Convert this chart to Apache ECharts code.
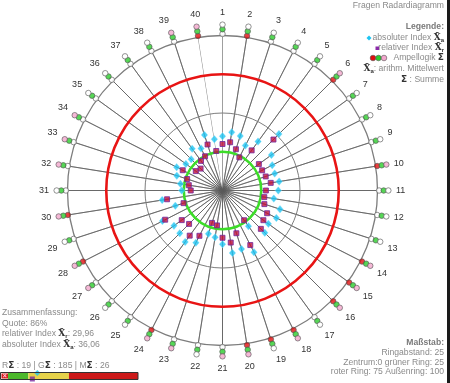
<!DOCTYPE html>
<html><head><meta charset="utf-8">
<script src="https://cdn.jsdelivr.net/npm/echarts@6/dist/echarts.min.js"></script>
<style>html,body{margin:0;padding:0;background:#fff}#c{width:450px;height:383px}</style>
</head><body><div id="c"></div>
<script>
// ---- data ----
const axisLabels = ['1','2','3','4','5','6','7','8','9','10','11','12','13','14','15','16','17','18','19','20',
  '21','22','23','24','25','26','27','28','29','30','31','32','33','34','35','36','37','38','39','40'];
const absIndex = [35,38,37,32.5,39,51.5,39,36,35.4,37, 36,33.5,39,39,36.6,38.6,28.5,44.7,39.7,40.8,
  34.7,30.6,29.4,37.8,41,39,38.7,43.5,32,39.4, 26.3,27.5,31,33.2,29.2,28.6,33.3,30.5,37.7,33.5];
const relIndex = [30,31.5,28,24,32,46.5,29,28.7,29.3,31.5, 28,27.3,28.4,32.3,32.6,35,23.7,39.5,29,34,
  30.5,22.8,22,32.8,36,30.5,32.5,41.5,26.4,36.2, 20.5,22,24,28.8,21.3,20,23.6,24.8,31.2,25.8];
const ampelRed   = [0,1,0,0,0,1,0,0,0,1, 0,0,0,1,1,1,0,1,1,1, 0,0,0,1,0,0,0,1,0,1, 0,0,0,0,0,0,0,0,0,1];
const ampelGreen = [1,1,1,1,1,1,1,1,1,1, 1,1,1,1,1,1,1,1,1,1, 1,1,1,1,1,1,1,1,1,1, 1,1,1,1,1,1,1,1,1,1];
const ampelPink  = [0,0,0,0,0,1,0,0,0,1, 0,0,0,1,1,1,0,1,0,1, 1,0,1,1,0,0,1,1,0,1, 0,1,1,1,0,0,0,0,1,1];
const ringValues = [25, 50, 75, 100];   // green, gray, red, outer
const quote = 86;
const relMean = 29.96;
const absMean = 36.06;
const sumR = 19, sumG = 185, sumM = 26;
const barBands = [25, 75, 160];        // green | yellow | red on the bottom bar scale

// ---- chart ----
const FF = '"Liberation Sans", Arial, sans-serif';
const chart = echarts.init(document.getElementById('c'));
const idx = axisLabels.map((_, i) => i);
const spokes = [];
idx.forEach(i => { spokes.push([0, i], [ringValues[3], i]); });

const RED = '#e01010', GREEN = '#2ccc2c', PINK = '#f2a6cc', WHITE = '#ffffff';
function ampel(arr, r, col) {
  return arr.map((v, i) => ({ value: [r, i], itemStyle: { color: v ? col : WHITE } }));
}
const fmt = v => String(v).replace('.', ',');
const RMAX = 110;
const ringStyles = [
  { stroke: '#3cdc28', lineWidth: 2.6 },
  { stroke: '#7d7d7d', lineWidth: 1 },
  { stroke: '#e81414', lineWidth: 2.6 },
  { stroke: '#7d7d7d', lineWidth: 1.3 }
];

const TXT = '#8a8a8a';
const rich = {
  x: { fontFamily: 'DejaVu Serif', fontWeight: 'bold', fontSize: 9, fill: '#333' },
  s: { fontFamily: FF, fontWeight: 'bold', fontSize: 6, fill: '#333', padding: [4, 0, 0, 0] },
  S: { fontFamily: 'DejaVu Sans', fontWeight: 'bold', fontSize: 9, fill: '#333' }
};
function txt(text, x, y, align, bold) {
  return { type: 'text', x: x, y: y, silent: true,
    style: { text: text, fill: bold ? '#7a7a7a' : TXT, font: (bold ? 'bold ' : '') + '8.6px ' + FF,
      textAlign: align, textVerticalAlign: 'middle', rich: rich } };
}

const option = {
  animation: false,
  polar: { center: [222.5, 190.5], radius: 170.5 },
  angleAxis: {
    type: 'category', data: axisLabels, startAngle: 90, clockwise: true, boundaryGap: false,
    axisLine: { show: false }, axisTick: { show: false }, splitLine: { show: false },
    axisLabel: { interval: 0, margin: 3, fontSize: 9, color: '#333', fontFamily: FF }
  },
  radiusAxis: {
    type: 'value', min: 0, max: RMAX,
    axisLine: { show: false }, axisTick: { show: false }, axisLabel: { show: false }, splitLine: { show: false }
  },
  grid: { left: 8, top: 373, width: 130, height: 6 },
  xAxis: { type: 'value', min: 0, max: barBands[2], show: false },
  yAxis: { type: 'category', data: ['bar'], show: false },
  series: [
    { type: 'line', coordinateSystem: 'polar', data: spokes, symbol: 'none', silent: true, z: 1,
      lineStyle: { color: '#5a5a5a', width: 0.7 } },
    { type: 'custom', coordinateSystem: 'polar', silent: true, z: 2,
      data: ringValues.map(v => [v, 0]),
      renderItem: function (params, api) {
        const c = api.coord([0, 0]);
        const p = api.coord([api.value(0), 0]);
        const r = Math.hypot(p[0] - c[0], p[1] - c[1]);
        return { type: 'circle', shape: { cx: c[0], cy: c[1], r: r },
          style: Object.assign({ fill: 'none' }, ringStyles[params.dataIndex]) };
      } },
    { type: 'scatter', coordinateSystem: 'polar', data: absIndex.map((v, i) => [v, i]), z: 5,
      symbol: 'diamond', symbolSize: [6.5, 7.5],
      itemStyle: { color: '#1ec4f2', borderColor: '#8ee4fa', borderWidth: 0.5 } },
    { type: 'scatter', coordinateSystem: 'polar', data: relIndex.map((v, i) => [v, i]), z: 6,
      symbol: 'rect', symbolSize: 5,
      itemStyle: { color: '#c0103a', borderColor: '#7028a0', borderWidth: 1 } },
    { type: 'scatter', coordinateSystem: 'polar', data: ampel(ampelRed, 101, RED), z: 7, symbolSize: 5.5,
      itemStyle: { borderColor: '#555', borderWidth: 0.8 } },
    { type: 'scatter', coordinateSystem: 'polar', data: ampel(ampelGreen, 104, GREEN), z: 8, symbolSize: 5.5,
      itemStyle: { borderColor: '#555', borderWidth: 0.8 } },
    { type: 'scatter', coordinateSystem: 'polar', data: ampel(ampelPink, 107, PINK), z: 9, symbolSize: 5.5,
      itemStyle: { borderColor: '#555', borderWidth: 0.8 } },
    // bottom bar
    { type: 'bar', stack: 'b', data: [barBands[0]], barWidth: 6, itemStyle: { color: '#4cb82c' }, silent: true },
    { type: 'bar', stack: 'b', data: [barBands[1] - barBands[0]], barWidth: 6, itemStyle: { color: '#e6d24a' }, silent: true },
    { type: 'bar', stack: 'b', data: [barBands[2] - barBands[1]], barWidth: 6, itemStyle: { color: '#cc1a1a' }, silent: true },
    { type: 'scatter', data: [[absMean, 0]], symbol: 'diamond', symbolSize: 6, symbolOffset: [0, -3], z: 10,
      itemStyle: { color: '#1ec4f2' } },
    { type: 'scatter', data: [[relMean, 0]], symbol: 'rect', symbolSize: 5, symbolOffset: [0, 3], z: 10,
      itemStyle: { color: '#7a2aa0' } }
  ],
  graphic: [
    { type: 'rect', shape: { x: 447, y: 0, width: 3, height: 383 }, style: { fill: '#1a1a1a' }, silent: true },
    txt('Fragen Radardiagramm', 444, 6, 'right'),
    txt('Legende:', 444, 27, 'right', true),
    txt('absoluter Index {x|X\u0304}{s|a}', 444, 38, 'right'),
    txt('relativer Index {x|X\u0304}{s|r}', 444, 48, 'right'),
    txt('Ampellogik {S|\u03A3}', 444, 58, 'right'),
    txt('{x|X\u0304}{s|a}: arithm. Mittelwert', 444, 69, 'right'),
    txt('{S|\u03A3} : Summe', 444, 80, 'right'),
    { type: 'polygon', shape: { points: [[369, 35.5], [371.5, 38], [369, 40.5], [366.5, 38]] }, style: { fill: '#1ec4f2' }, silent: true },
    { type: 'rect', shape: { x: 375.5, y: 46.5, width: 3.5, height: 3.5 }, style: { fill: '#8a2aa8' }, silent: true },
    { type: 'circle', shape: { cx: 373, cy: 58, r: 2.8 }, style: { fill: RED, stroke: '#555', lineWidth: 0.6 }, silent: true },
    { type: 'circle', shape: { cx: 378.5, cy: 58, r: 2.8 }, style: { fill: GREEN, stroke: '#555', lineWidth: 0.6 }, silent: true },
    { type: 'circle', shape: { cx: 384, cy: 58, r: 2.8 }, style: { fill: PINK, stroke: '#555', lineWidth: 0.6 }, silent: true },

    txt('Zusammenfassung:', 2, 313, 'left'),
    txt('Quote: ' + quote + '%', 2, 324, 'left'),
    txt('relativer Index {x|X\u0304}{s|r}: ' + fmt(relMean), 2, 334, 'left'),
    txt('absoluter Index {x|X\u0304}{s|a}: ' + fmt(absMean), 2, 345, 'left'),
    txt('R{S|\u03A3} : ' + sumR + ' | G{S|\u03A3} : ' + sumG + ' | M{S|\u03A3} : ' + sumM, 2, 366, 'left'),
    { type: 'rect', shape: { x: 0.5, y: 372.5, width: 137.5, height: 7 }, style: { fill: 'none', stroke: '#333', lineWidth: 1 }, silent: true, z: 20 },
    { type: 'rect', shape: { x: 1.5, y: 373.5, width: 6.5, height: 5 }, style: { fill: '#d82020' }, silent: true, z: 21 },
    { type: 'text', x: 4.7, y: 376, silent: true, z: 22, style: { text: '\u00D7', fill: '#ffd0e0', font: 'bold 7px ' + FF, textAlign: 'center', textVerticalAlign: 'middle' } },

    txt('Maßstab:', 444, 343, 'right', true),
    txt('Ringabstand: ' + (ringValues[1] - ringValues[0]), 444, 353, 'right'),
    txt('Zentrum:0 grüner Ring: ' + ringValues[0], 444, 363, 'right'),
    txt('roter Ring: ' + ringValues[2] + ' Außenring: ' + ringValues[3], 444, 372, 'right')
  ]
};
chart.setOption(option);
</script>
</body></html>
